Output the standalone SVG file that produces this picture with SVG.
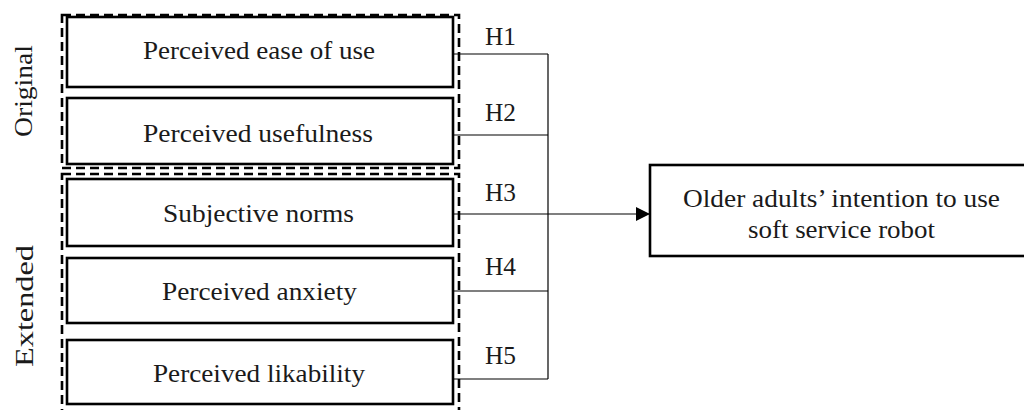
<svg xmlns="http://www.w3.org/2000/svg" width="1024" height="410" viewBox="0 0 1024 410">
<defs>
<style>
.bg{fill:#ffffff}
.box{fill:#ffffff;stroke:#000;stroke-width:2.6}
.dash{fill:none;stroke:#000;stroke-width:2.6;stroke-dasharray:9 5}
.ln{fill:none;stroke:#000;stroke-width:1.2}
text{font-family:'Liberation Serif',serif;font-size:26px;fill:#1a1a1a}
.t{text-anchor:middle}
</style>
<marker id="arr" markerWidth="14" markerHeight="14" refX="14" refY="7" orient="auto" markerUnits="userSpaceOnUse">
<path d="M0,0 L14,7 L0,14 Z" fill="#000"/>
</marker>
</defs>
<rect class="bg" x="0" y="0" width="1024" height="410"/>

<g id="group-original">
<rect class="dash" x="62" y="15" width="397" height="153"/>
<text class="t" font-family="Liberation Serif" transform="translate(32,91) rotate(-90)" textLength="92" lengthAdjust="spacingAndGlyphs">Original</text>
</g>
<g id="group-extended">
<rect class="dash" x="62" y="174" width="397" height="250"/>
<text class="t" font-family="Liberation Serif" transform="translate(33,306) rotate(-90)" textLength="122" lengthAdjust="spacingAndGlyphs">Extended</text>
</g>

<g id="connectors">
<line class="ln" x1="453" y1="54" x2="548" y2="54"/>
<line class="ln" x1="453" y1="135" x2="548" y2="135"/>
<line class="ln" x1="453" y1="291" x2="548" y2="291"/>
<line class="ln" x1="453" y1="379" x2="548" y2="379"/>
<line class="ln" x1="548" y1="54" x2="548" y2="379"/>
<line class="ln" x1="453" y1="214" x2="650" y2="214" marker-end="url(#arr)"/>
<text font-family="Liberation Serif" x="485" y="45" textLength="31" lengthAdjust="spacingAndGlyphs">H1</text>
<text font-family="Liberation Serif" x="485" y="121" textLength="31" lengthAdjust="spacingAndGlyphs">H2</text>
<text font-family="Liberation Serif" x="485" y="201" textLength="31" lengthAdjust="spacingAndGlyphs">H3</text>
<text font-family="Liberation Serif" x="485" y="275" textLength="31" lengthAdjust="spacingAndGlyphs">H4</text>
<text font-family="Liberation Serif" x="485" y="364" textLength="31" lengthAdjust="spacingAndGlyphs">H5</text>
</g>

<g id="node-peou">
<rect class="box" x="67" y="17" width="386" height="70"/>
<text class="t" font-family="Liberation Serif" x="259" y="59" textLength="232" lengthAdjust="spacingAndGlyphs">Perceived ease of use</text>
</g>
<g id="node-pu">
<rect class="box" x="67" y="98" width="386" height="66"/>
<text class="t" font-family="Liberation Serif" x="258" y="142" textLength="230" lengthAdjust="spacingAndGlyphs">Perceived usefulness</text>
</g>
<g id="node-sn">
<rect class="box" x="67" y="179" width="386" height="67"/>
<text class="t" font-family="Liberation Serif" x="258.5" y="222" textLength="191" lengthAdjust="spacingAndGlyphs">Subjective norms</text>
</g>
<g id="node-pa">
<rect class="box" x="67" y="258" width="386" height="65"/>
<text class="t" font-family="Liberation Serif" x="259.5" y="300" textLength="195" lengthAdjust="spacingAndGlyphs">Perceived anxiety</text>
</g>
<g id="node-pl">
<rect class="box" x="67" y="340" width="386" height="64"/>
<text class="t" font-family="Liberation Serif" x="259" y="382" textLength="212" lengthAdjust="spacingAndGlyphs">Perceived likability</text>
</g>
<g id="node-intention">
<rect class="box" x="650" y="165" width="383" height="91"/>
<text class="t" font-family="Liberation Serif" x="841.5" y="207" textLength="317" lengthAdjust="spacingAndGlyphs">Older adults’ intention to use</text>
<text class="t" font-family="Liberation Serif" x="841.5" y="238" textLength="187" lengthAdjust="spacingAndGlyphs">soft service robot</text>
</g>
</svg>
